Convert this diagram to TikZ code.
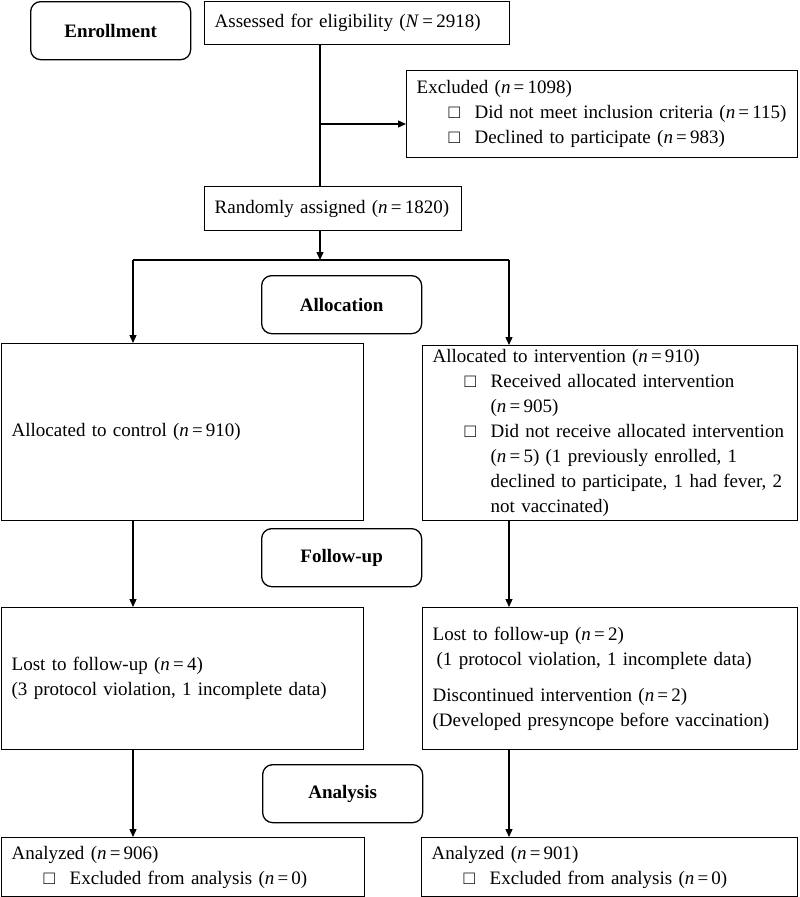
\documentclass[tikz,border=0pt]{standalone}
\usepackage{fontspec}
\setmainfont{Liberation Serif}
\usetikzlibrary{arrows.meta}

\newcommand{\sqitem}{\hspace*{32pt}\makebox[26pt][l]{□}}
\newcommand{\contln}{\hspace*{58pt}}
\newcommand{\cnt}[2]{(\textit{#1}\,=\,#2)}

\begin{document}
\begin{tikzpicture}[
		x=1pt, y=-1pt,
		line width=1.3pt,
		>={Triangle[length=8pt, width=7pt]},
		font=\fontsize{19}{25}\selectfont,
		box/.style={draw, rectangle, anchor=north west, align=left, inner xsep=10pt, inner ysep=0pt},
		stage/.style={draw, rectangle, rounded corners=10pt, anchor=north west, minimum width=160pt, minimum height=58pt, font=\fontsize{19}{25}\selectfont\bfseries}
	]
	\useasboundingbox (0,0) rectangle (800,897);

	\node[stage] (enroll) at (30,1) {Enrollment};
	\node[stage] (alloc) at (261,275) {Allocation};
	\node[stage] (follow) at (261,528) {Follow-up};
	\node[stage] (analysis) at (262,764) {Analysis};

	\node[box, text width=285pt, minimum height=43pt] (assess) at (204,1) {\mbox{Assessed for eligibility \cnt{N}{2918}}};
	\node[box, text width=371pt, minimum height=87pt] (excl) at (406,70) {Excluded \cnt{n}{1098}\\
		\mbox{\sqitem Did not meet inclusion criteria \cnt{n}{115}}\\
		\sqitem Declined to participate \cnt{n}{983}};
	\node[box, text width=237pt, minimum height=44pt] (rand) at (204,186) {\mbox{Randomly assigned \cnt{n}{1820}}};

	\node[box, text width=342pt, minimum height=177pt] (control) at (1,343) {Allocated to control \cnt{n}{910}};
	\node[box, text width=355pt, minimum height=175pt] (interv) at (422,345) {Allocated to intervention \cnt{n}{910}\\
		\sqitem Received allocated intervention\\
		\contln \cnt{n}{905}\\
		\mbox{\sqitem Did not receive allocated intervention}\\
		\contln \cnt{n}{5} (1 previously enrolled, 1\\
		\mbox{\contln declined to participate, 1 had fever, 2}\\
		\contln not vaccinated)};

	\node[box, text width=342pt, minimum height=142pt] (lostL) at (1,607) {Lost to follow-up \cnt{n}{4}\\
		(3 protocol violation, 1 incomplete data)};
	\node[box, text width=355pt, minimum height=142pt] (lostR) at (422,607) {Lost to follow-up \cnt{n}{2}\\
		\hspace*{4pt}(1 protocol violation, 1 incomplete data)\\[11pt]
		Discontinued intervention \cnt{n}{2}\\
		(Developed presyncope before vaccination)};

	\node[box, text width=343pt, minimum height=59pt] (anaL) at (1,837) {Analyzed \cnt{n}{906}\\
		\sqitem Excluded from analysis \cnt{n}{0}};
	\node[box, text width=356pt, minimum height=59pt] (anaR) at (421,837) {Analyzed \cnt{n}{901}\\
		\sqitem Excluded from analysis \cnt{n}{0}};

	\coordinate (split) at (320,124);
	\coordinate (fork) at (320,260);
	\coordinate (lcol) at (133,260);
	\coordinate (rcol) at (509,260);

	\draw (assess.south -| split) -- (rand.north -| split);
	\draw[->] (split) -- (split -| excl.west);
	\draw[->] (rand.south -| fork) -- (fork);
	\draw (lcol) -- (rcol);
	\draw[->] (lcol) -- (lcol |- control.north);
	\draw[->] (rcol) -- (rcol |- interv.north);
	\draw[->] (lcol |- control.south) -- (lcol |- lostL.north);
	\draw[->] (rcol |- interv.south) -- (rcol |- lostR.north);
	\draw[->] (lcol |- lostL.south) -- (lcol |- anaL.north);
	\draw[->] (rcol |- lostR.south) -- (rcol |- anaR.north);
\end{tikzpicture}
\end{document}
